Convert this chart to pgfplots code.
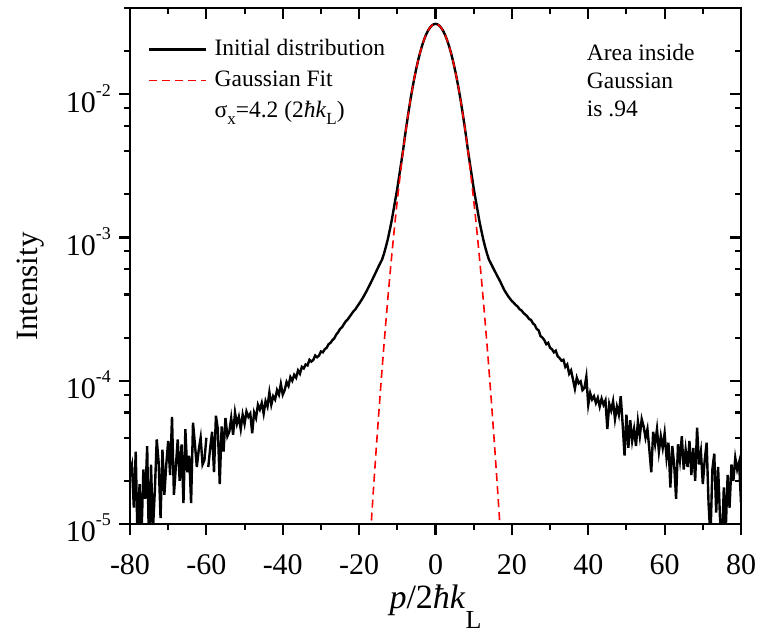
\documentclass[border=0pt]{standalone}
\usepackage{fontspec}
\setmainfont{Liberation Serif}
\usepackage{pgfplots}
\pgfplotsset{compat=1.18}
\newcommand{\lbl}[1]{10\raisebox{16pt}{\fontsize{18}{18}\selectfont #1}}
\begin{document}
\begin{tikzpicture}
\begin{axis}[width=611pt,height=516pt,scale only axis,
  xmin=-80,xmax=80, ymode=log, ymin=1e-5, ymax=0.04,
  xtick={-80,-60,...,80}, minor x tick num=1,
  ytick={1e-5,1e-4,1e-3,1e-2},
  minor ytick={2e-5,4e-5,6e-5,8e-5,2e-4,4e-4,6e-4,8e-4,2e-3,4e-3,6e-3,8e-3,2e-2,4e-2},
  major tick length=11pt, minor tick length=6pt,
  tick style={black, line width=2.1pt},
  axis line style={line width=2.3pt},
  tick align=outside, xtick pos=left, ytick pos=left,
  unbounded coords=jump,
  xticklabels={-80,-60,-40,-20,0,20,40,60,80},
  yticklabels={\lbl{-5},\lbl{-4},\lbl{-3},\lbl{-2}},
  xticklabel style={font=\fontsize{30}{30}\selectfont, inner sep=0pt, anchor=north, yshift=-19pt},
  yticklabel style={font=\fontsize{30}{30}\selectfont, inner sep=0pt, anchor=east, yshift=-4pt, xshift=-8pt},
  xlabel={\textit{p}/2\textit{ħk}\raisebox{-20pt}{\fontsize{26}{26}\selectfont L}},
  xlabel style={font=\fontsize{34}{34}\selectfont, at={(axis description cs:0.5,-0.1628)}, anchor=base, inner sep=0pt},
  ylabel={Intensity},
  ylabel style={font=\fontsize{31}{31}\selectfont, at={(axis description cs:-0.1522,0.46)}, anchor=base, inner sep=0pt},
  legend style={draw=none, fill=none, at={(rel axis cs:0.02946,0.9419)}, anchor=north west,
    font=\fontsize{23.5}{23.5}\selectfont, inner sep=0pt, row sep=8pt,
    nodes={inner sep=0pt, text height=17pt, text depth=6pt},
    cells={anchor=west},
    /tikz/every odd column/.append style={column sep=7pt}},
  legend image code/.code={\draw[#1] (0pt,0pt) -- (57pt,0pt);},
]
\addplot[black, line width=2.4pt] coordinates {
(-80,2.3e-5)(-79.5,2.6e-5)(-79,1.3e-5)(-78.5,3.2e-5)(-78,0.7e-5)(-77.5,1.9e-5)(-77,0.8e-5)(-76.5,2.4e-5)(-76,1.5e-5)(-75.5,3.5e-5)(-75,0.6e-5)(-74.5,2.6e-5)(-74,0.9e-5)(-73.5,1.7e-5)(-73,3.9e-5)(-72.5,2.7e-5)(-72,1.1e-5)(-71.5,3.3e-5)(-71,1.6e-5)(-70.5,2.6e-5)(-70,3.8e-5)(-69.5,2.2e-5)(-69,5.6e-5)(-68.5,1.6e-5)(-68,2.5e-5)(-67.5,3.9e-5)(-67,2.0e-5)(-66.5,3.6e-5)(-66,1.4e-5)(-65.5,4.6e-5)(-65,2.3e-5)(-64.5,3.0e-5)(-64,1.4e-5)(-63.5,5.1e-5)(-63,3.6e-5)(-62.5,2.5e-5)(-62,3.3e-5)(-61.5,4.0e-5)(-61,2.6e-5)(-60.5,2.8e-5)(-60,4.0e-5)(-59.75,nan)(-59.5,2.5e-5)(-59,3.4e-5)(-58.5,4.4e-5)(-58,2.3e-5)(-57.5,5.7e-5)(-57,4.6e-5)(-56.5,1.9e-5)(-56,4.8e-5)(-55.5,3.2e-5)(-55,5.5e-5)(-54.5,4.1e-5)(-54,4.4e-5)(-53.5,5.5e-5)(-53,4.2e-5)(-52.5,6.0e-5)(-52,5.0e-5)(-51.5,5.6e-5)(-51,4.6e-5)(-50.5,5.8e-5)(-50,5.0e-5)(-49.5,6.1e-5)(-49,5.6e-5)(-48.5,5.9e-5)(-48,4.3e-5)(-47.5,6.0e-5)(-47,5.5e-5)(-46.5,6.8e-5)(-46,6.3e-5)(-45.5,7.0e-5)(-45,5.9e-5)(-44.5,7.2e-5)(-44,6.6e-5)(-43.5,8.3e-5)(-43,6.8e-5)(-42.5,7.8e-5)(-42,7.4e-5)(-41.5,8.6e-5)(-41,8.0e-5)(-40.5,9.5e-5)(-40,8.0e-5)(-39.5,8.6e-5)(-39,9.8e-5)(-38.5,9.2e-5)(-38,1.06e-4)(-37.5,1.0e-4)(-37,1.10e-4)(-36.5,1.05e-4)(-36,1.18e-4)(-35.5,1.12e-4)(-35,1.25e-4)(-34.5,1.22e-4)(-34,1.30e-4)(-33.5,1.28e-4)(-33,1.40e-4)(-32.5,1.36e-4)(-32,1.40e-4)(-31.5,1.50e-4)(-31,1.46e-4)(-30.5,1.50e-4)(-30,1.60e-4)(-29.5,1.58e-4)(-29,1.66e-4)(-28.5,1.70e-4)(-28,1.80e-4)(-27.5,1.84e-4)(-27,1.92e-4)(-26.5,1.98e-4)(-26,2.10e-4)(-25.5,2.18e-4)(-25,2.30e-4)(-24.5,2.36e-4)(-24,2.48e-4)(-23.5,2.60e-4)(-23,2.68e-4)(-22.5,2.80e-4)(-22,2.92e-4)(-21.5,3.05e-4)(-21,3.15e-4)(-20.5,3.30e-4)
(-20,3.45e-4)(-19,3.8e-4)(-18,4.25e-4)(-17,4.8e-4)(-16,5.45e-4)(-15,6.2e-4)(-14.5,6.6e-4)(-14,7.0e-4)(-13.5,7.7e-4)(-13,8.6e-4)(-12.5,9.7e-4)(-12,1.12e-3)(-11.5,1.30e-3)(-11,1.55e-3)(-10.5,1.85e-3)(-10,2.2e-3)(-9.5,2.7e-3)(-9,3.3e-3)(-8.5,4.05e-3)(-8,5.1e-3)(-7.5,6.3e-3)(-7,7.73e-3)(-6.5,9.36e-3)(-6,1.117e-2)(-5.5,1.315e-2)(-5,1.526e-2)(-4.5,1.746e-2)(-4,1.970e-2)(-3.5,2.191e-2)(-3,2.402e-2)(-2.5,2.597e-2)(-2,2.768e-2)(-1.5,2.908e-2)(-1,3.014e-2)(-0.5,3.078e-2)(0,3.10e-2)
(0.5,3.078e-2)(1,3.014e-2)(1.5,2.908e-2)(2,2.768e-2)(2.5,2.597e-2)(3,2.402e-2)(3.5,2.191e-2)(4,1.970e-2)(4.5,1.746e-2)(5,1.526e-2)(5.5,1.315e-2)(6,1.117e-2)(6.5,9.36e-3)(7,7.73e-3)(7.5,6.3e-3)(8,5.1e-3)(8.5,4.05e-3)(9,3.3e-3)(9.5,2.7e-3)(10,2.2e-3)(10.5,1.85e-3)(11,1.55e-3)(11.5,1.30e-3)(12,1.12e-3)(12.5,9.7e-4)(13,8.6e-4)(13.5,7.7e-4)(14,7.0e-4)(14.5,6.6e-4)(15,6.2e-4)(16,5.5e-4)(17,4.9e-4)(18,4.3e-4)(19,3.9e-4)(20,3.6e-4)
(20.5,3.50e-4)(21,3.38e-4)(21.5,3.30e-4)(22,3.16e-4)(22.5,3.10e-4)(23,2.98e-4)(23.5,2.90e-4)(24,2.82e-4)(24.5,2.70e-4)(25,2.66e-4)(25.5,2.52e-4)(26,2.45e-4)(26.5,2.30e-4)(27,2.25e-4)(27.5,2.05e-4)(28,2.00e-4)(28.5,1.92e-4)(29,1.80e-4)(29.5,1.84e-4)(30,1.70e-4)(30.5,1.66e-4)(31,1.58e-4)(31.5,1.62e-4)(32,1.48e-4)(32.5,1.44e-4)(33,1.38e-4)(33.5,1.40e-4)(34,1.25e-4)(34.5,1.30e-4)(35,1.12e-4)(35.5,1.18e-4)(36,1.02e-4)(36.5,8.8e-5)(37,1.05e-4)(37.5,9.6e-5)(38,9.9e-5)(38.5,8.6e-5)(39,8.9e-5)(39.5,1.07e-4)(40,6.8e-5)(40.5,8.2e-5)(41,7.4e-5)(41.5,7.8e-5)(42,7.0e-5)(42.5,7.6e-5)(43,6.6e-5)(43.5,7.5e-5)(44,6.8e-5)(44.5,7.3e-5)(45,4.6e-5)(45.5,6.9e-5)(46,6.2e-5)(46.5,7.2e-5)(47,5.4e-5)(47.5,6.6e-5)(48,5.8e-5)(48.5,7.8e-5)(49,5.0e-5)(49.5,3.0e-5)(50,5.8e-5)(50.5,3.4e-5)(51,5.3e-5)(51.5,3.8e-5)(52,4.6e-5)(52.5,3.5e-5)(53,5.2e-5)(53.5,4.1e-5)(54,5.4e-5)(54.5,4.8e-5)(55,4.0e-5)(55.5,4.6e-5)(56,3.3e-5)(56.5,2.3e-5)(57,4.4e-5)(57.5,3.6e-5)(58,4.6e-5)(58.5,3.2e-5)(59,4.1e-5)(59.5,3.4e-5)(60,4.3e-5)(60.5,2.9e-5)(61,3.7e-5)(61.5,1.8e-5)(62,3.5e-5)(62.5,2.6e-5)(63,1.5e-5)(63.5,3.6e-5)(64,2.8e-5)(64.5,4.1e-5)(65,2.4e-5)(65.5,3.3e-5)(66,2.5e-5)(66.5,3.8e-5)(67,2.2e-5)(67.5,3.4e-5)(68,2.0e-5)(68.5,4.7e-5)(69,2.6e-5)(69.5,3.2e-5)(70,1.9e-5)(70.5,2.8e-5)(71,3.7e-5)(71.5,1.4e-5)(72,0.8e-5)(72.5,2.4e-5)(73,3.1e-5)(73.5,1.2e-5)(74,2.5e-5)(74.5,1.1e-5)(75,0.7e-5)(75.5,1.8e-5)(76,0.9e-5)(76.5,2.2e-5)(77,1.3e-5)(77.5,2.6e-5)(78,2.0e-5)(78.5,2.9e-5)(79,2.4e-5)(79.5,2.7e-5)(80,1.4e-5)
};
\addlegendentry{Initial distribution}
\addplot[red, line width=1.6pt, dash pattern=on 8pt off 5pt] coordinates {
(-17,8.59e-6)(-16.5,1.381e-5)(-16,2.187e-5)(-15.5,3.42e-5)(-15,5.267e-5)(-14.5,8.00e-5)(-14,1.198e-4)(-13.5,1.770e-4)(-13,2.576e-4)(-12.5,3.697e-4)(-12,5.233e-4)(-11.5,7.30e-4)(-11,1.004e-3)(-10.5,1.362e-3)(-10,1.821e-3)(-9.5,2.401e-3)(-9,3.122e-3)(-8.5,4.00e-3)(-8,5.053e-3)(-7.5,6.294e-3)(-7,7.733e-3)(-6.5,9.36e-3)(-6,1.117e-2)(-5.5,1.315e-2)(-5,1.526e-2)(-4.5,1.746e-2)(-4,1.970e-2)(-3.5,2.191e-2)(-3,2.402e-2)(-2.5,2.597e-2)(-2,2.768e-2)(-1.5,2.908e-2)(-1,3.014e-2)(-0.5,3.078e-2)(0,3.10e-2)
(0.5,3.078e-2)(1,3.014e-2)(1.5,2.908e-2)(2,2.768e-2)(2.5,2.597e-2)(3,2.402e-2)(3.5,2.191e-2)(4,1.970e-2)(4.5,1.746e-2)(5,1.526e-2)(5.5,1.315e-2)(6,1.117e-2)(6.5,9.36e-3)(7,7.733e-3)(7.5,6.294e-3)(8,5.053e-3)(8.5,4.00e-3)(9,3.122e-3)(9.5,2.401e-3)(10,1.821e-3)(10.5,1.362e-3)(11,1.004e-3)(11.5,7.30e-4)(12,5.233e-4)(12.5,3.697e-4)(13,2.576e-4)(13.5,1.770e-4)(14,1.198e-4)(14.5,8.00e-5)(15,5.267e-5)(15.5,3.42e-5)(16,2.187e-5)(16.5,1.381e-5)(17,8.59e-6)
};
\addlegendentry{Gaussian Fit}
\addlegendimage{empty legend}
\addlegendentry{σ\raisebox{-7pt}{\fontsize{17}{17}\selectfont x}=4.2 (2\textit{ħk}\raisebox{-7pt}{\fontsize{17}{17}\selectfont L})}
\node[anchor=base west, inner sep=0pt, font=\fontsize{23.5}{23.5}\selectfont] at (rel axis cs:0.7475,0.8992) {Area inside};
\node[anchor=base west, inner sep=0pt, font=\fontsize{23.5}{23.5}\selectfont] at (rel axis cs:0.7475,0.8444) {Gaussian};
\node[anchor=base west, inner sep=0pt, font=\fontsize{23.5}{23.5}\selectfont] at (rel axis cs:0.7475,0.7893) {is .94};
\coordinate (SW) at (rel axis cs:0,0);
\coordinate (NE) at (rel axis cs:1,1);
\end{axis}
\begin{axis}[width=611pt,height=516pt,scale only axis,
  xmin=-80,xmax=80, ymode=log, ymin=1e-5, ymax=0.04,
  xtick={-80,-60,...,80}, minor x tick num=1,
  ytick={1e-5,1e-4,1e-3,1e-2},
  minor ytick={2e-5,4e-5,6e-5,8e-5,2e-4,4e-4,6e-4,8e-4,2e-3,4e-3,6e-3,8e-3,2e-2,4e-2},
  major tick length=11pt, minor tick length=6pt,
  tick style={black, line width=2.1pt},
  axis line style={line width=2.3pt},
  tick align=inside, xtick pos=right, ytick pos=right,
  xticklabels={}, yticklabels={}]
\end{axis}
\pgfresetboundingbox
\path ([xshift=-130pt,yshift=-111pt]SW) rectangle ([xshift=20pt,yshift=8pt]NE);
\end{tikzpicture}
\end{document}
